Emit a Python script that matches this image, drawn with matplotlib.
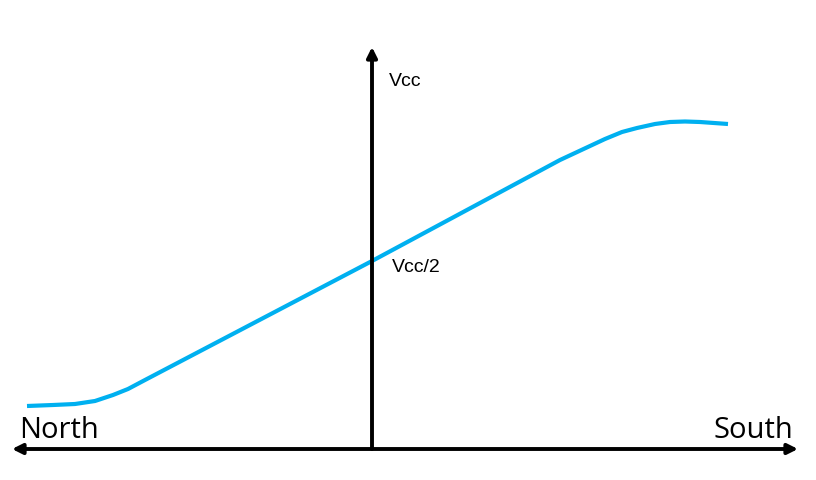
import matplotlib.pyplot as plt

# curve traced in pixel coordinates (x right, y down)
curve_x = [27, 53, 75, 95, 113, 128, 145, 372, 560, 605, 622, 637, 655, 670, 685, 700, 728]
curve_y = [406, 405, 404, 401, 395, 389, 380, 261, 160, 139, 132, 128, 124, 122, 121.5, 122, 124]

h_axis = (12, 798, 449)   # x0, x1, y
v_axis = (372, 449, 47)   # x, y0, y1

labels = ['North', 'South', 'Vcc', 'Vcc/2']

fig = plt.figure(figsize=(8.16, 4.8), dpi=100)
ax = fig.add_axes([0, 0, 1, 1])
ax.set_xlim(0, 816)
ax.set_ylim(480, 0)
ax.axis('off')

ax.plot(curve_x, curve_y, color='#00B0F0', linewidth=3.0, solid_capstyle='butt',
        solid_joinstyle='round')

arrow = dict(arrowstyle='<|-|>', color='black', lw=2.8, mutation_scale=15,
             shrinkA=0, shrinkB=0)
ax.annotate('', xy=(h_axis[0], h_axis[2]), xytext=(h_axis[1], h_axis[2]), arrowprops=arrow)
ax.annotate('', xy=(v_axis[0], v_axis[2]), xytext=(v_axis[0], v_axis[1]),
            arrowprops=dict(arrowstyle='-|>', color='black', lw=2.8, mutation_scale=15,
                            shrinkA=0, shrinkB=0))

ax.text(19, 438, labels[0], fontsize=21, family='Open Sans', ha='left', va='baseline')
ax.text(793, 438, labels[1], fontsize=21, family='Open Sans', ha='right', va='baseline')
ax.text(389, 82, labels[2], fontsize=14, family='Liberation Sans', ha='left', va='center')
ax.text(392, 268, labels[3], fontsize=14, family='Liberation Sans', ha='left', va='center')

fig.savefig('out.png', dpi=100)
